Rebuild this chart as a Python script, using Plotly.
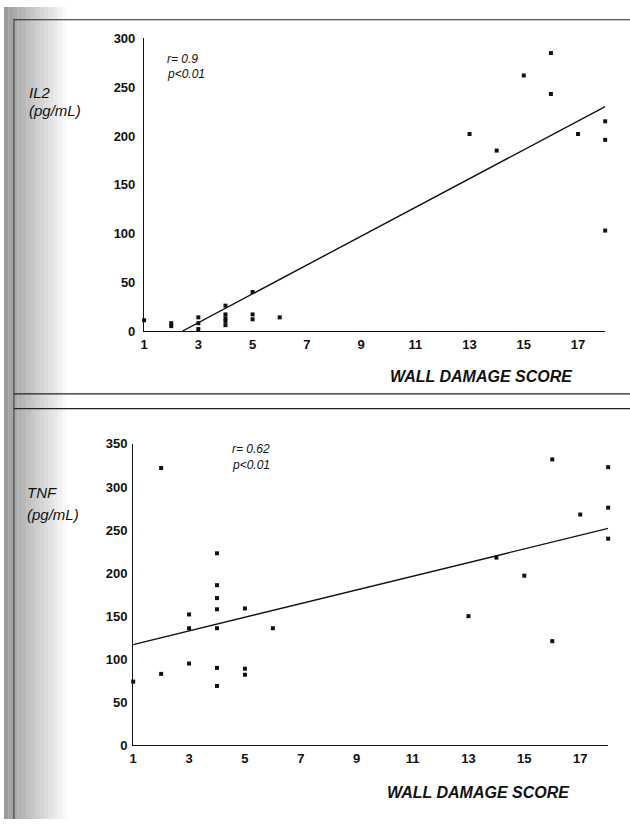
import numpy as np
import plotly.graph_objects as go

# ---------------- data ----------------
IL2_X = [1, 2, 2, 3, 3, 3, 4, 4, 4, 4, 4, 5, 5, 5, 6, 13, 14, 15, 16, 16, 17, 18, 18, 18]
IL2_Y = [11, 5, 8, 14, 8, 2, 26, 17, 13, 10, 6, 40, 17, 12, 14, 202, 185, 262, 285, 243, 202, 215, 196, 103]

TNF_X = [1, 2, 2, 3, 3, 3, 4, 4, 4, 4, 4, 4, 4, 5, 5, 5, 6, 13, 14, 15, 16, 16, 17, 18, 18, 18]
TNF_Y = [74, 322, 83, 152, 136, 95, 223, 186, 171, 158, 136, 90, 69, 159, 89, 82, 136, 150, 218, 197, 332, 121, 268, 323, 276, 240]

X_TICKS = [1, 3, 5, 7, 9, 11, 13, 15, 17]
IL2_TICKS = [0, 50, 100, 150, 200, 250, 300]
TNF_TICKS = [0, 50, 100, 150, 200, 250, 300, 350]
X_MIN, X_MAX = 1, 18

IL2_STATS = ["r= 0.9", "p<0.01"]
TNF_STATS = ["r= 0.62", "p<0.01"]
IL2_LABEL = ["IL2", "(pg/mL)"]
TNF_LABEL = ["TNF", "(pg/mL)"]
X_TITLE = "WALL DAMAGE SCORE"

W, H = 630, 827


def px(x):
    return x / W


def py(y):
    return 1 - y / H


def fit_line(xs, ys):
    slope, intercept = np.polyfit(xs, ys, 1)
    x0 = max(X_MIN, -intercept / slope) if intercept < 0 else X_MIN
    xl = np.array([x0, X_MAX])
    return xl, slope * xl + intercept


FONT = "Liberation Sans, Arial, Helvetica, sans-serif"
fig = go.Figure()

for xs, ys, xa, ya in [(IL2_X, IL2_Y, "x", "y"), (TNF_X, TNF_Y, "x2", "y2")]:
    fig.add_trace(go.Scatter(x=xs, y=ys, mode="markers", xaxis=xa, yaxis=ya,
                             marker=dict(symbol="square", size=4, color="#111"),
                             cliponaxis=False, showlegend=False))
    lx, ly = fit_line(xs, ys)
    fig.add_trace(go.Scatter(x=lx, y=ly, mode="lines", xaxis=xa, yaxis=ya,
                             line=dict(color="#111", width=1.4),
                             cliponaxis=False, showlegend=False))

tickfont = dict(family=FONT, size=13, color="#111", weight=700)
axis_common = dict(showline=True, linecolor="#111", linewidth=1.3, showgrid=False,
                   zeroline=False, ticks="", tickfont=tickfont)

fig.update_layout(
    width=W, height=H, autosize=False,
    margin=dict(l=0, r=0, t=0, b=0),
    paper_bgcolor="white", plot_bgcolor="white",
    xaxis=dict(domain=[px(141), px(605)], range=[X_MIN, X_MAX], tickvals=X_TICKS,
               anchor="y", ticklabelstandoff=1, **axis_common),
    yaxis=dict(domain=[py(330), py(32)], range=[0, 300], tickvals=IL2_TICKS,
               anchor="x", ticklabelstandoff=5, **axis_common),
    xaxis2=dict(domain=[px(130), px(608)], range=[X_MIN, X_MAX], tickvals=X_TICKS,
                anchor="y2", ticklabelstandoff=1, **axis_common),
    yaxis2=dict(domain=[py(752), py(445)], range=[0, 350], tickvals=TNF_TICKS,
                anchor="x2", ticklabelstandoff=2, **axis_common),
)

ann = []


def text(x, y, s, size, bold=False, anchor="left"):
    ann.append(dict(x=px(x), y=py(y), xref="paper", yref="paper", text=s,
                    showarrow=False, xanchor=anchor, yanchor="middle",
                    font=dict(family=FONT, size=size, color="#111",
                              style="italic", weight=700 if bold else 400)))


# y-axis labels
text(23, 87, IL2_LABEL[0], 15)
text(23, 105, IL2_LABEL[1], 15)
text(21, 494, TNF_LABEL[0], 15)
text(21, 517, TNF_LABEL[1], 15)
# stats
text(162, 53, IL2_STATS[0], 12)
text(162, 68, IL2_STATS[1], 12)
text(227, 450, TNF_STATS[0], 12)
text(227, 466, TNF_STATS[1], 12)
# x titles
text(481, 376, X_TITLE, 16, bold=True, anchor="center")
text(478, 800, X_TITLE, 16, bold=True, anchor="center")
fig.update_layout(annotations=ann)

shapes = []
# halftone-like left strip
for i in range(14):
    x0 = i * 4.5
    op = max(0.0, 0.6 - i * 0.043)
    shapes.append(dict(type="rect", xref="paper", yref="paper", x0=px(x0), x1=px(x0 + 4.5),
                       y0=0, y1=1, fillcolor=f"rgba(90,90,90,{op:.3f})", line=dict(width=0),
                       layer="below"))
shapes.append(dict(type="line", xref="paper", yref="paper", x0=px(10), x1=px(10), y0=0, y1=py(12),
                   line=dict(color="#444", width=1.2)))
# frame rules
for yy, xs in [(13, 10), (394, 10), (409, 10)]:
    shapes.append(dict(type="line", xref="paper", yref="paper", x0=px(xs), x1=1,
                       y0=py(yy), y1=py(yy), line=dict(color="#222", width=1.2)))
fig.update_layout(shapes=shapes)

fig.write_html("out.html", config={"displayModeBar": False},
               post_script="document.body.style.margin='0';")
